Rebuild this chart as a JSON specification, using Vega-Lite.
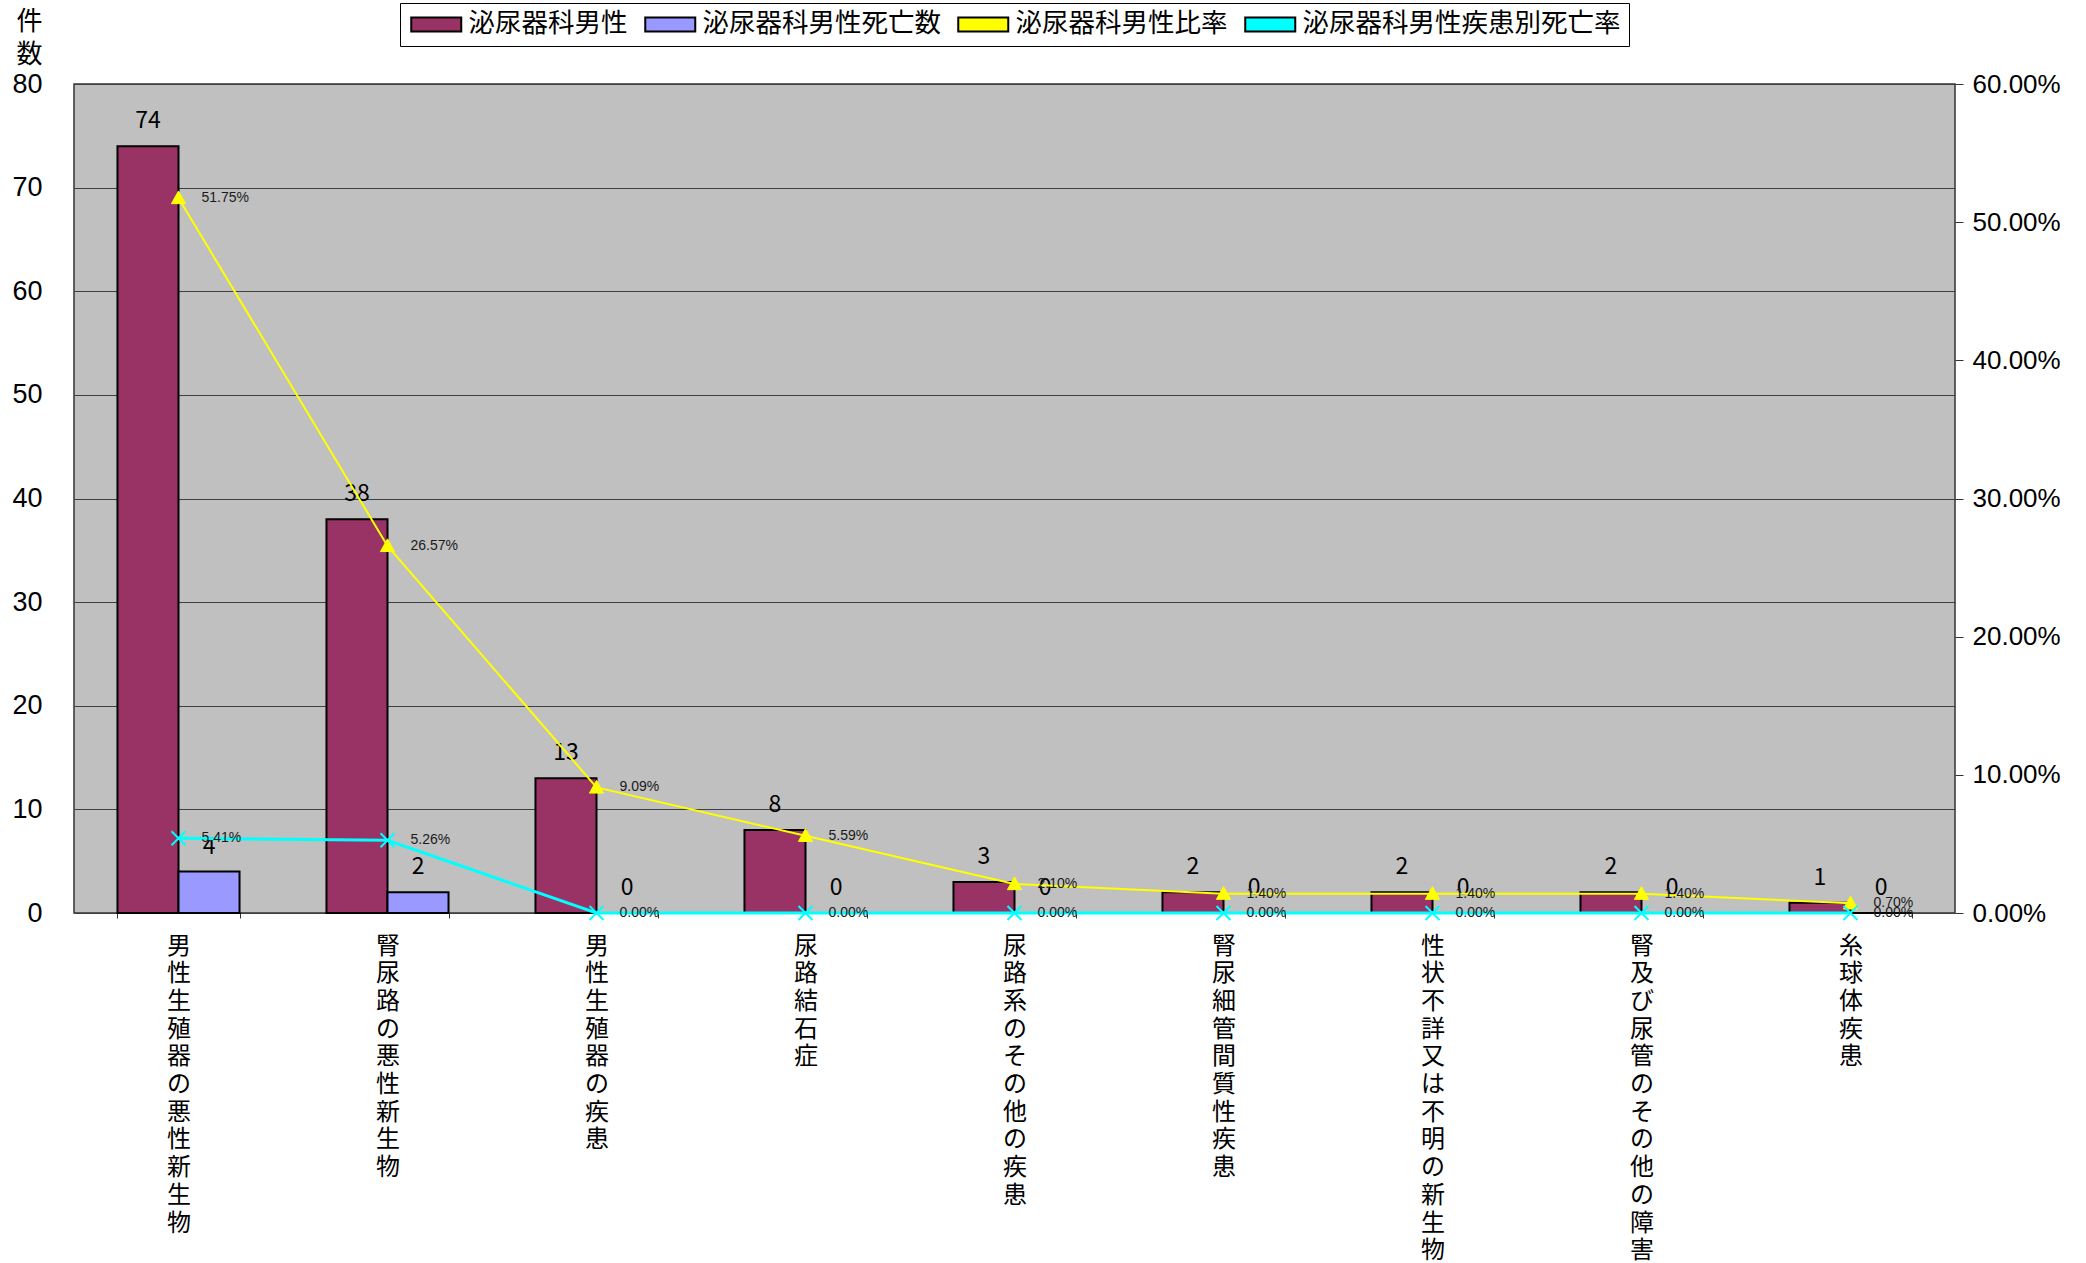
{
  "$schema": "https://vega.github.io/schema/vega-lite/v6.json",
  "width": 1881,
  "height": 829,
  "autosize": {"type": "none"},
  "padding": {"left": 74, "top": 84, "right": 131, "bottom": 350},
  "background": "white",
  "config": {
    "view": {"fill": "#C0C0C0", "stroke": "#333333", "strokeWidth": 1.5},
    "font": "Noto Sans CJK JP"
  },
  "data": {
    "values": [
      {"cat": "男性生殖器の悪性新生物", "series": "泌尿器科男性", "value": 74},
      {"cat": "腎尿路の悪性新生物", "series": "泌尿器科男性", "value": 38},
      {"cat": "男性生殖器の疾患", "series": "泌尿器科男性", "value": 13},
      {"cat": "尿路結石症", "series": "泌尿器科男性", "value": 8},
      {"cat": "尿路系のその他の疾患", "series": "泌尿器科男性", "value": 3},
      {"cat": "腎尿細管間質性疾患", "series": "泌尿器科男性", "value": 2},
      {"cat": "性状不詳又は不明の新生物", "series": "泌尿器科男性", "value": 2},
      {"cat": "腎及び尿管のその他の障害", "series": "泌尿器科男性", "value": 2},
      {"cat": "糸球体疾患", "series": "泌尿器科男性", "value": 1},
      {"cat": "男性生殖器の悪性新生物", "series": "泌尿器科男性死亡数", "value": 4},
      {"cat": "腎尿路の悪性新生物", "series": "泌尿器科男性死亡数", "value": 2},
      {"cat": "男性生殖器の疾患", "series": "泌尿器科男性死亡数", "value": 0},
      {"cat": "尿路結石症", "series": "泌尿器科男性死亡数", "value": 0},
      {"cat": "尿路系のその他の疾患", "series": "泌尿器科男性死亡数", "value": 0},
      {"cat": "腎尿細管間質性疾患", "series": "泌尿器科男性死亡数", "value": 0},
      {"cat": "性状不詳又は不明の新生物", "series": "泌尿器科男性死亡数", "value": 0},
      {"cat": "腎及び尿管のその他の障害", "series": "泌尿器科男性死亡数", "value": 0},
      {"cat": "糸球体疾患", "series": "泌尿器科男性死亡数", "value": 0},
      {"cat": "男性生殖器の悪性新生物", "series": "泌尿器科男性比率", "value": 0.5175},
      {"cat": "腎尿路の悪性新生物", "series": "泌尿器科男性比率", "value": 0.2657},
      {"cat": "男性生殖器の疾患", "series": "泌尿器科男性比率", "value": 0.0909},
      {"cat": "尿路結石症", "series": "泌尿器科男性比率", "value": 0.0559},
      {"cat": "尿路系のその他の疾患", "series": "泌尿器科男性比率", "value": 0.021},
      {"cat": "腎尿細管間質性疾患", "series": "泌尿器科男性比率", "value": 0.014},
      {"cat": "性状不詳又は不明の新生物", "series": "泌尿器科男性比率", "value": 0.014},
      {"cat": "腎及び尿管のその他の障害", "series": "泌尿器科男性比率", "value": 0.014},
      {"cat": "糸球体疾患", "series": "泌尿器科男性比率", "value": 0.007},
      {"cat": "男性生殖器の悪性新生物", "series": "泌尿器科男性疾患別死亡率", "value": 0.0541},
      {"cat": "腎尿路の悪性新生物", "series": "泌尿器科男性疾患別死亡率", "value": 0.0526},
      {"cat": "男性生殖器の疾患", "series": "泌尿器科男性疾患別死亡率", "value": 0},
      {"cat": "尿路結石症", "series": "泌尿器科男性疾患別死亡率", "value": 0},
      {"cat": "尿路系のその他の疾患", "series": "泌尿器科男性疾患別死亡率", "value": 0},
      {"cat": "腎尿細管間質性疾患", "series": "泌尿器科男性疾患別死亡率", "value": 0},
      {"cat": "性状不詳又は不明の新生物", "series": "泌尿器科男性疾患別死亡率", "value": 0},
      {"cat": "腎及び尿管のその他の障害", "series": "泌尿器科男性疾患別死亡率", "value": 0},
      {"cat": "糸球体疾患", "series": "泌尿器科男性疾患別死亡率", "value": 0}
    ]
  },
  "resolve": {"scale": {"y": "independent"}},
  "layer": [
    {
      "transform": [{"filter": "datum.series == '泌尿器科男性' || datum.series == '泌尿器科男性死亡数'"}],
      "mark": {"type": "bar", "stroke": "black", "strokeWidth": 2, "opacity": 1},
      "encoding": {
        "x": {
          "field": "cat", "type": "nominal", "sort": null,
          "scale": {"paddingInner": 0.416, "paddingOuter": 0.208},
          "axis": {
            "title": null, "labelAngle": 0, "labelExpr": "split(datum.label, '')",
            "labelBaseline": "top", "labelAlign": "center", "labelFontSize": 24,
            "labelLineHeight": 27.7, "labelPadding": 16, "labelColor": "black",
            "labelOverlap": false, "labelLimit": 0, "domain": false,
            "ticks": true, "tickBand": "extent", "tickSize": 5, "tickColor": "#333333"
          }
        },
        "xOffset": {"field": "series", "type": "nominal", "scale": {"domain": ["泌尿器科男性", "泌尿器科男性死亡数"], "paddingInner": 0, "paddingOuter": 0}},
        "y": {
          "field": "value", "type": "quantitative",
          "scale": {"domain": [0, 80], "nice": false},
          "axis": {
            "values": [0, 10, 20, 30, 40, 50, 60, 70, 80],
            "grid": true, "gridColor": "#404040",
            "domain": false, "ticks": false, "labelPadding": 32,
            "labelFont": "Liberation Sans", "labelFontSize": 27, "labelColor": "black",
            "title": ["件", "数"], "titleAngle": 0, "titleX": -45, "titleY": -76,
            "titleAlign": "center", "titleBaseline": "top", "titleFontSize": 26,
            "titleLineHeight": 33, "titleFontWeight": "normal", "titleColor": "black",
            "titleFont": "Noto Sans CJK JP"
          }
        },
        "color": {
          "field": "series", "type": "nominal",
          "scale": {
            "domain": ["泌尿器科男性", "泌尿器科男性死亡数", "泌尿器科男性比率", "泌尿器科男性疾患別死亡率"],
            "range": ["#993366", "#9999FF", "#FFFF00", "#00FFFF"]
          },
          "legend": {
            "title": null, "orient": "none", "legendX": 326, "legendY": -81,
            "direction": "horizontal", "strokeColor": "black", "fillColor": "white",
            "padding": 8, "columnPadding": 13, "labelOffset": 34, "symbolSize": 400,
            "symbolType": "M-1,-0.7H4V0.7H-1Z", "symbolStrokeColor": "black", "symbolStrokeWidth": 2,
            "symbolOpacity": 1,
            "labelFont": "Noto Sans CJK JP", "labelFontSize": 26.5, "labelColor": "black",
            "labelLimit": 0
          }
        }
      }
    },
    {
      "transform": [{"filter": "datum.series == '泌尿器科男性' || datum.series == '泌尿器科男性死亡数'"}],
      "mark": {"type": "text", "baseline": "alphabetic", "dy": -18, "fontSize": 23, "color": "black", "font": "Noto Sans CJK JP"},
      "encoding": {
        "x": {"field": "cat", "type": "nominal", "sort": null},
        "xOffset": {"field": "series", "type": "nominal"},
        "y": {"field": "value", "type": "quantitative", "scale": {"domain": [0, 80], "nice": false}, "axis": null},
        "text": {"field": "value", "type": "quantitative"}
      }
    },
    {
      "transform": [{"filter": "datum.series == '泌尿器科男性比率' || datum.series == '泌尿器科男性疾患別死亡率'"}],
      "mark": {"type": "line"},
      "encoding": {
        "x": {"field": "cat", "type": "nominal", "sort": null},
        "y": {
          "field": "value", "type": "quantitative",
          "scale": {"domain": [0, 0.6], "nice": false},
          "axis": {
            "orient": "right", "values": [0, 0.1, 0.2, 0.3, 0.4, 0.5, 0.6], "format": ".2%",
            "grid": false, "domain": false, "tickSize": 8, "tickColor": "#333333",
            "labelPadding": 9, "labelFont": "Liberation Sans", "labelFontSize": 26,
            "labelColor": "black", "title": null
          }
        },
        "stroke": {"field": "series", "type": "nominal", "scale": {"domain": ["泌尿器科男性比率", "泌尿器科男性疾患別死亡率"], "range": ["#FFFF00", "#00FFFF"]}, "legend": null},
        "strokeWidth": {"field": "series", "type": "nominal", "scale": {"domain": ["泌尿器科男性比率", "泌尿器科男性疾患別死亡率"], "range": [2, 3]}, "legend": null}
      }
    },
    {
      "transform": [{"filter": "datum.series == '泌尿器科男性比率'"}],
      "mark": {"type": "point", "shape": "M0,-1L1,0.8L-1,0.8Z", "filled": true, "color": "#FFFF00", "stroke": "#FFFF00", "strokeWidth": 1, "opacity": 1, "size": 200},
      "encoding": {
        "x": {"field": "cat", "type": "nominal", "sort": null},
        "y": {"field": "value", "type": "quantitative", "scale": {"domain": [0, 0.6], "nice": false}, "axis": null}
      }
    },
    {
      "transform": [{"filter": "datum.series == '泌尿器科男性疾患別死亡率'"}],
      "mark": {"type": "point", "shape": "M-1,-1L1,1M-1,1L1,-1", "filled": false, "stroke": "#00FFFF", "strokeWidth": 2, "opacity": 1, "size": 196},
      "encoding": {
        "x": {"field": "cat", "type": "nominal", "sort": null},
        "y": {"field": "value", "type": "quantitative", "scale": {"domain": [0, 0.6], "nice": false}, "axis": null}
      }
    },
    {
      "transform": [{"filter": "datum.series == '泌尿器科男性比率' || datum.series == '泌尿器科男性疾患別死亡率'"}],
      "mark": {"type": "text", "align": "left", "baseline": "middle", "dx": 23, "fontSize": 14, "font": "Liberation Sans", "color": "#1a1a1a"},
      "encoding": {
        "x": {"field": "cat", "type": "nominal", "sort": null},
        "y": {"field": "value", "type": "quantitative", "scale": {"domain": [0, 0.6], "nice": false}, "axis": null},
        "text": {"field": "value", "type": "quantitative", "format": ".2%"}
      }
    }
  ]
}
